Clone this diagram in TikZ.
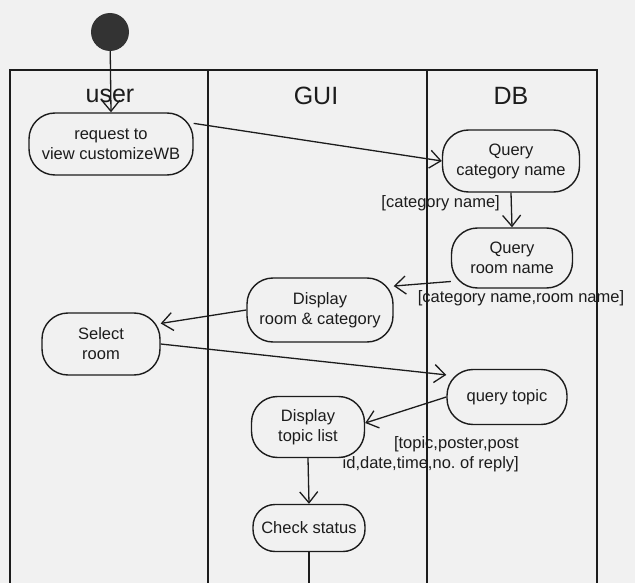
\documentclass[tikz,border=0pt]{standalone}
\usepackage{fontspec}
\setmainfont{Liberation Sans}
\usetikzlibrary{arrows.meta,calc,positioning}
\definecolor{ActInk}{HTML}{1C1C1C}
\definecolor{ActPaper}{HTML}{F1F1F1}
\definecolor{ActStart}{HTML}{333333}
\tikzset{
  lane/.style={
    draw=ActInk,
    line width=1.4pt
  },
  lanehead/.style={
    font=\fontsize{25}{28}\selectfont,
    text=ActInk,
    inner sep=0pt
  },
  action/.style={
    draw=ActInk,
    line width=1.4pt,
    rounded corners=26pt,
    inner sep=0pt,
    align=center,
    font=\fontsize{16.5}{20}\selectfont,
    text=ActInk
  },
  guard/.style={
    font=\fontsize{16.5}{20}\selectfont,
    text=ActInk,
    inner sep=0pt
  },
  flow/.style={
    -{Straight Barb[length=11pt,width=18pt]},
    draw=ActInk,
    line width=1.3pt
  }
}

\begin{document}
\begin{tikzpicture}[x=1pt,y=-1pt]
  \fill[ActPaper] (0,0) rectangle (635,583);
  \useasboundingbox (0,0) rectangle (635,583);

  % Three swimlanes, open at the bottom.
  \draw[lane] (10,583) -- (10,70) -- (597,70) -- (597,583);
  \draw[lane] (208,70) -- (208,583);
  \draw[lane] (427,70) -- (427,583);
  \node[lanehead] (h-user) at (110,96) {user};
  \node[lanehead] (h-gui) at (316,96) {GUI};
  \node[lanehead] (h-db) at (511,96) {DB};

  % Initial state.
  \node[circle,fill=ActStart,minimum size=38pt,inner sep=0pt] (start) at (110,32) {};

  % Actions.
  \node[action,minimum width=164pt,minimum height=62pt] (req) at (111,144)
    {request to\\view customizeWB};
  \node[action,minimum width=137pt,minimum height=62pt] (qcat) at (511,161)
    {Query\\category name};
  \node[action,minimum width=121pt,minimum height=60pt] (qroom) at (512,258)
    {Query\\room name};
  \node[action,minimum width=146pt,minimum height=64pt] (disp) at (320,310)
    {Display\\room \& category};
  \node[action,minimum width=118pt,minimum height=62pt] (sel) at (101,344)
    {Select\\room};
  \node[action,minimum width=120pt,minimum height=55pt] (qtopic) at (507,397)
    {query topic};
  \node[action,minimum width=113pt,minimum height=61pt] (tlist) at (308,427)
    {Display\\topic list};
  \node[action,minimum width=112pt,minimum height=47pt,rounded corners=22pt] (chk) at (309,528)
    {Check status};
  \coordinate (chk-out) at (309,583);

  % Guards.
  \node[guard,anchor=east] (g-cat) at (500,203) {[category name]};
  \node[guard] (g-catroom) at (521,298) {[category name,room name]};
  \node[guard,align=right,anchor=east] (g-topic) at (519,454)
    {[topic,poster,post\\id,date,time,no.\ of reply]};

  % Control flow.
  \draw[flow] (start) -- (req.north);
  \draw[flow] (req.14) -- (qcat.west);
  \draw[flow] (qcat.south) -- (qroom.north);
  \draw[flow] (qroom.201) -- (disp.18);
  \draw[flow] (disp.west) -- (sel.19);
  \draw[flow] (sel.east) -- (qtopic.160);
  \draw[flow] (qtopic.west) -- (tlist.4);
  \draw[flow] (tlist.south) -- (chk.north);
  \draw[lane,line width=1.3pt] (chk.south) -- (chk-out);
\end{tikzpicture}
\end{document}
